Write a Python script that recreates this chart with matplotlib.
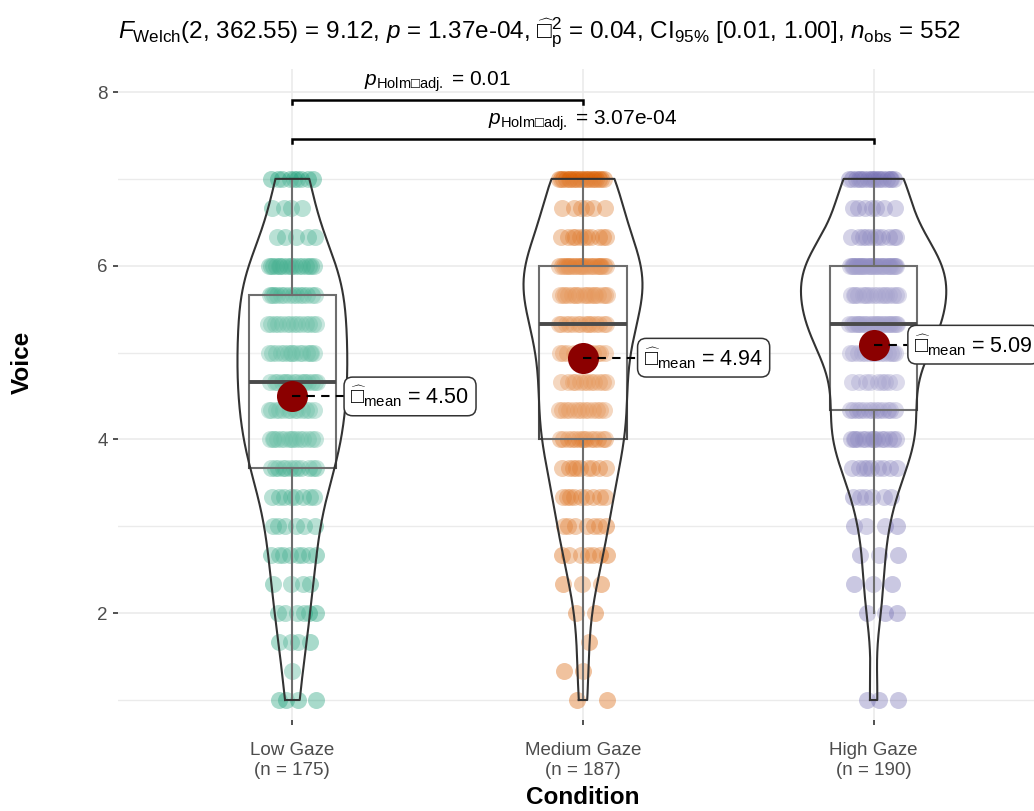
import numpy as np
import matplotlib.pyplot as plt

plt.rcParams['font.family'] = 'Liberation Sans'
plt.rcParams['mathtext.fontset'] = 'custom'
plt.rcParams['mathtext.rm'] = 'Liberation Sans'
plt.rcParams['mathtext.it'] = 'Liberation Sans:italic'
plt.rcParams['mathtext.bf'] = 'Liberation Sans:bold'
plt.rcParams['axes.unicode_minus'] = False

# Voice scale (mean of three 7-point items)
voice_levels = [3/3, 4/3, 5/3, 6/3, 7/3, 8/3, 9/3, 10/3, 11/3, 12/3,
                13/3, 14/3, 15/3, 16/3, 17/3, 18/3, 19/3, 20/3, 21/3]
conditions = ['Low Gaze', 'Medium Gaze', 'High Gaze']
low_counts = [4, 1, 4, 6, 4, 8, 6, 8, 12, 15, 13, 16, 15, 14, 14, 17, 5, 4, 9]
medium_counts = [2, 2, 1, 2, 3, 7, 7, 9, 9, 14, 13, 12, 12, 15, 18, 24, 11, 6, 20]
high_counts = [3, 0, 0, 3, 3, 3, 4, 6, 9, 15, 13, 9, 15, 25, 17, 30, 11, 7, 17]
group_colors = ['#1B9E77', '#D95F02', '#7570B3']

# Welch ANOVA results
welch_df = (2, 362.55)
welch_F = 9.12
welch_p = '1.37e-04'
omega_sq = 0.04
omega_ci = (0.01, 1.00)

# Holm-adjusted pairwise comparisons
pairs = [(0, 1), (0, 2)]
pair_p = ['0.01', '3.07e-04']
bracket_y = [7.91, 7.46]

# label offsets for the mean annotations (x units)
label_dx = [0.20, 0.21, 0.14]

all_counts = [low_counts, medium_counts, high_counts]
groups = [np.repeat(voice_levels, c) for c in all_counts]
n_obs = sum(len(g) for g in groups)


def nrd0(x):
    sd = x.std(ddof=1)
    q75, q25 = np.percentile(x, [75, 25])
    return 0.9 * min(sd, (q75 - q25) / 1.34) * len(x) ** -0.2


def kde(x, grid):
    bw = nrd0(x)
    z = (grid[:, None] - x[None, :]) / bw
    return np.exp(-0.5 * z ** 2).sum(axis=1) / (len(x) * bw * np.sqrt(2 * np.pi))


fig = plt.figure(figsize=(10.34, 8.11), dpi=100)
ax = fig.add_axes([118 / 1034, 91 / 811, 930 / 1034, 651 / 811])

# density curves for the violins, scaled by area across groups
dens = []
for g in groups:
    grid = np.linspace(g.min(), g.max(), 512)
    dens.append((grid, kde(g, grid)))
dmax = max(d.max() for _, d in dens)

for i, g in enumerate(groups):
    # jittered raw points
    xs, ys = [], []
    for lvl, c in zip(voice_levels, all_counts[i]):
        for j in range(c):
            u = (j * 0.6180339 + lvl * 0.37) % 1.0
            xs.append(i + (u - 0.5) * 0.17)
            ys.append(lvl)
    ax.scatter(xs, ys, s=150, color=group_colors[i], alpha=0.38, linewidths=0, zorder=2)

    # boxplot
    ax.boxplot([g], positions=[i], widths=0.3, whis=1.5, showfliers=False, showcaps=False,
               manage_ticks=False, patch_artist=True,
               boxprops=dict(facecolor=(1, 1, 1, 0.2), edgecolor='#4a4a4a', linewidth=1.5),
               whiskerprops=dict(color='#4a4a4a', linewidth=1.5),
               medianprops=dict(color='#4a4a4a', linewidth=2.8), zorder=3)

    # violin outline
    grid, d = dens[i]
    w = d / dmax * 0.25
    ax.fill_betweenx(grid, i - w, i + w, facecolor='white', alpha=0.2, linewidth=0, zorder=3)
    vx = np.concatenate([i - w, (i + w)[::-1], [i - w[0]]])
    vy = np.concatenate([grid, grid[::-1], [grid[0]]])
    ax.plot(vx, vy, color='#333333', linewidth=1.5, zorder=4)

    # mean point and label
    m = g.mean()
    ax.scatter([i], [m], s=500, color='#8B0000', zorder=5, linewidths=0)
    ax.plot([i, i + label_dx[i] - 0.02], [m, m], color='black', linestyle=(0, (4, 3)),
            linewidth=1.5, zorder=6)
    ax.text(i + label_dx[i], m, r'$\widehat{□}_{\mathrm{mean}}$ = %.2f' % m, fontsize=15.5,
            ha='left', va='center', zorder=7,
            bbox=dict(boxstyle='round,pad=0.3,rounding_size=0.4', fc='white', ec='#333333',
                      linewidth=1.1))

# significance brackets
for (a, b), p, yb in zip(pairs, pair_p, bracket_y):
    ax.plot([a, a, b, b], [yb - 0.05, yb, yb, yb - 0.05], color='black', linewidth=1.8,
            zorder=4, solid_joinstyle='miter')
    ax.text((a + b) / 2, yb + 0.07, r'$p_{\mathrm{Holm□adj.}}$ = %s' % p,
            fontsize=15, ha='center', va='bottom')

ax.set_xlim(-0.6, 2.6)
ax.set_ylim(0.77, 8.265)
ax.set_xticks(range(3))
ax.set_xticklabels(['%s\n(n = %d)' % (c, len(g)) for c, g in zip(conditions, groups)],
                   fontsize=13.5, color='#4D4D4D', linespacing=1.3)
ax.set_yticks([2, 4, 6, 8])
ax.set_yticks([1, 3, 5, 7], minor=True)
ax.tick_params(axis='y', labelsize=13.5, labelcolor='#4D4D4D', length=3.5, width=1.2,
               color='#333333', pad=4)
ax.tick_params(axis='x', length=3.5, width=1.2, color='#333333', pad=12)
ax.tick_params(axis='y', which='minor', length=0)
ax.grid(True, which='major', color='#EBEBEB', linewidth=1.2, zorder=0)
ax.grid(True, which='minor', axis='y', color='#EBEBEB', linewidth=1.0, zorder=0)
ax.set_axisbelow(True)
for s in ax.spines.values():
    s.set_visible(False)

fig.text(583 / 1034, 1 - 797 / 811, 'Condition', fontsize=17.5, fontweight='bold',
         ha='center', va='center')
fig.text(22 / 1034, 1 - 362 / 811, 'Voice', fontsize=17.5, fontweight='bold',
         ha='center', va='center', rotation=90)

title = (r'$F_{\mathrm{Welch}}$(%d, %.2f) = %.2f, $p$ = %s, '
         r'$\widehat{□}_{\mathrm{p}}^{2}$ = %.2f, CI$_{95\%%}$ [%.2f, %.2f], '
         r'$n_{\mathrm{obs}}$ = %d'
         % (welch_df[0], welch_df[1], welch_F, welch_p, omega_sq, omega_ci[0], omega_ci[1], n_obs))
fig.text(118 / 1034, 1 - 33 / 811, title, fontsize=17.5, ha='left', va='center')

fig.savefig('out.png', dpi=100)
